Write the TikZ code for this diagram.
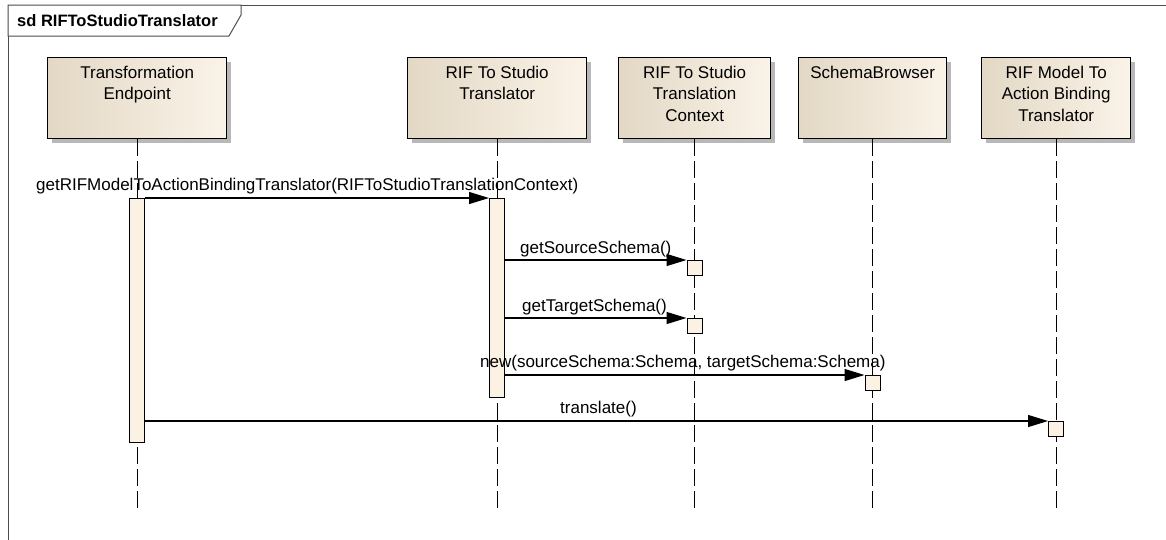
\documentclass[tikz,border=0pt]{standalone}
\usepackage{fontspec}
\setmainfont{Liberation Sans}
\usetikzlibrary{arrows.meta,shadows}
\definecolor{boxL}{HTML}{E3D8C5}
\definecolor{boxR}{HTML}{FAF3E8}
\definecolor{actfill}{HTML}{FBF2E3}
\begin{document}
\begin{tikzpicture}[x=1pt,y=-1pt,
  lbl/.style={font=\fontsize{17}{21.3}\selectfont, inner sep=0pt},
  obj/.style={draw=black, line width=1.4pt, left color=boxL, right color=boxR,
    minimum height=81pt, inner sep=0pt, anchor=north west,
    general shadow={fill=black!28, shadow xshift=4.5pt, shadow yshift=-4.5pt}},
  act/.style={draw=black, line width=1.2pt, fill=actfill, minimum width=15pt,
    inner sep=0pt, anchor=north west},
  msg/.style={line width=1.3pt, -{Triangle[length=20pt,width=12pt]}},
  life/.style={line width=1.3pt, dash pattern=on 17pt off 5pt},
  frame/.style={draw=black!70, line width=1pt}]
\useasboundingbox (0,0) rectangle (1166,539);
\clip (0,0) rectangle (1166,539);
\fill[white] (0,0) rectangle (1166,539);
% frame
\draw[frame] (8,5) rectangle (1190,560);
\draw[frame, fill=white] (8,5) -- (241,5) -- (241,15) -- (229,36) -- (8,36) -- cycle;
\node[anchor=base west, inner sep=0pt, font=\bfseries\fontsize{16.5}{20}\selectfont] (title) at (17,26.5) {sd RIFToStudioTranslator};
% objects
\node[obj, minimum width=179pt] (te) at (47,57) {};
\node[obj, minimum width=179pt] (rst) at (407,57) {};
\node[obj, minimum width=152pt] (ctx) at (618,57) {};
\node[obj, minimum width=148pt] (sbr) at (798,57) {};
\node[obj, minimum width=149pt] (mab) at (981,57) {};
\node[lbl, anchor=north, align=center] (te-t) at ([yshift=-9pt]te.north) {Transformation\\Endpoint};
\node[lbl, anchor=north, align=center] (rst-t) at ([yshift=-9pt]rst.north) {RIF To Studio\\Translator};
\node[lbl, anchor=north, align=center] (ctx-t) at ([yshift=-9pt]ctx.north) {RIF To Studio\\Translation\\Context};
\node[lbl, anchor=north, align=center] (sbr-t) at ([yshift=-9pt]sbr.north) {SchemaBrowser};
\node[lbl, anchor=north, align=center] (mab-t) at ([yshift=-9pt]mab.north) {RIF Model To\\Action Binding\\Translator};
% lifelines
\coordinate (bot) at (0,508);
\coordinate (te-e) at (te.south |- bot);
\coordinate (rst-e) at (rst.south |- bot);
\coordinate (ctx-e) at (ctx.south |- bot);
\coordinate (sbr-e) at (sbr.south |- bot);
\coordinate (mab-e) at (mab.south |- bot);
\draw[life] (te.south) -- (te-e);
\draw[life] (rst.south) -- (rst-e);
\draw[life] (ctx.south) -- (ctx-e);
\draw[life] (sbr.south) -- (sbr-e);
\draw[life] (mab.south) -- (mab-e);
% activations
\node[act, minimum height=244pt] (b1) at (129,198) {};
\node[act, minimum height=199pt] (b2) at (489,198) {};
\node[act, minimum height=15pt] (s3a) at (686.5,260) {};
\node[act, minimum height=15pt] (s3b) at (686.5,318) {};
\node[act, minimum height=15pt] (s4) at (864.5,375) {};
\node[act, minimum height=15pt] (s5) at (1048,421) {};
% messages
\draw[msg] (b1.north east) -- (b2.north west);
\draw[msg] (s3a.north west -| b2.east) -- (s3a.north west);
\draw[msg] (s3b.north west -| b2.east) -- (s3b.north west);
\draw[msg] (s4.north west -| b2.east) -- (s4.north west);
\draw[msg] (s5.north west -| b1.east) -- (s5.north west);
\node[lbl, anchor=base west] (m1) at (36,190.5) {getRIFModelToActionBindingTranslator(RIFToStudioTranslationContext)};
\node[lbl, anchor=base west] (m2) at (520,253) {getSourceSchema()};
\node[lbl, anchor=base west] (m3) at (522,311.5) {getTargetSchema()};
\node[lbl, anchor=base west] (m4) at (480,367.5) {new(sourceSchema:Schema, targetSchema:Schema)};
\node[lbl, anchor=base west] (m5) at (560,413.5) {translate()};
\end{tikzpicture}
\end{document}
